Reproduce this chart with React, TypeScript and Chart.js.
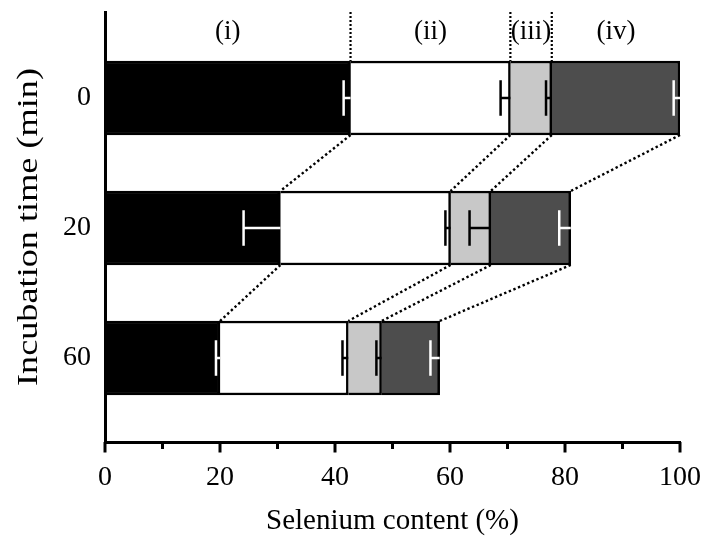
import { useEffect, useRef } from 'react';
import { Chart, registerables } from 'chart.js';

Chart.register(...registerables);

// Incubation times (rows) and the four selenium fractions
const incubationTimes = ['0', '20', '60'];
const fractionLabels = ['(i)', '(ii)', '(iii)', '(iv)'];

// Selenium content of each fraction (% of initial), per incubation time
const fractionI = [42.7, 30.5, 20.0];
const fractionII = [27.8, 29.6, 22.3];
const fractionIII = [7.2, 7.0, 5.8];
const fractionIV = [22.3, 13.9, 10.1];

// Error (one-sided, drawn to the left of each segment end)
const errorI = [1.2, 6.4, 0.7];
const errorII = [1.7, 0.9, 1.0];
const errorIII = [1.0, 3.7, 0.9];
const errorIV = [1.1, 2.0, 1.6];

const majorTicks = [0, 20, 40, 60, 80, 100];
const minorTicks = [10, 30, 50, 70, 90];

const yTitle = 'Incubation time (min)';
const xTitle = 'Selenium content (%)';

const fractions = [fractionI, fractionII, fractionIII, fractionIV];
const errors = [errorI, errorII, errorIII, errorIV];
const fillColors = ['#000000', '#ffffff', '#c8c8c8', '#4d4d4d'];
const errorColors = ['#ffffff', '#000000', '#000000', '#ffffff'];

const SERIF = "'Liberation Serif', 'Times New Roman', serif";

// cumulative right-hand end of every segment, per row
const segmentEnds = incubationTimes.map((_, i) => {
  let sum = 0;
  return fractions.map((f) => (sum += f[i]));
});

const overlayPlugin = {
  id: 'fractionOverlay',
  afterDatasetsDraw(chart: any) {
    const { ctx, chartArea } = chart;
    const xs = chart.scales.x;
    const metas = fractions.map((_, d) => chart.getDatasetMeta(d));
    const px = (v: number) => xs.getPixelForValue(v);

    ctx.save();

    // error bars
    ctx.lineCap = 'butt';
    fractions.forEach((f, d) => {
      f.forEach((_, i) => {
        const bar = metas[d].data[i];
        const y = bar.y;
        const h = bar.height;
        const xEnd = px(segmentEnds[i][d]);
        const xStart = px(segmentEnds[i][d] - errors[d][i]);
        ctx.strokeStyle = errorColors[d];
        ctx.lineWidth = 2.5;
        ctx.beginPath();
        ctx.moveTo(xStart, y);
        ctx.lineTo(xEnd, y);
        ctx.stroke();
        ctx.beginPath();
        ctx.moveTo(xStart, y - h * 0.24);
        ctx.lineTo(xStart, y + h * 0.24);
        ctx.stroke();
      });
    });

    // dotted connectors between consecutive bars
    ctx.strokeStyle = '#000000';
    ctx.lineWidth = 2.4;
    ctx.setLineDash([2.4, 2.6]);
    for (let i = 0; i < incubationTimes.length - 1; i++) {
      const a = metas[0].data[i];
      const b = metas[0].data[i + 1];
      const yA = a.y + a.height / 2;
      const yB = b.y - b.height / 2;
      for (let d = 0; d < fractions.length; d++) {
        ctx.beginPath();
        ctx.moveTo(px(segmentEnds[i][d]), yA);
        ctx.lineTo(px(segmentEnds[i + 1][d]), yB);
        ctx.stroke();
      }
    }

    // dotted separators above the first bar
    const first = metas[0].data[0];
    const firstTop = first.y - first.height / 2;
    ctx.lineWidth = 2.2;
    ctx.setLineDash([2, 2]);
    for (let d = 0; d < fractions.length - 1; d++) {
      const xx = px(segmentEnds[0][d]);
      ctx.beginPath();
      ctx.moveTo(xx, chartArea.top);
      ctx.lineTo(xx, firstTop);
      ctx.stroke();
    }
    ctx.setLineDash([]);

    // fraction labels
    ctx.fillStyle = '#000000';
    ctx.font = `27px ${SERIF}`;
    ctx.textAlign = 'center';
    ctx.textBaseline = 'alphabetic';
    fractionLabels.forEach((t, d) => {
      const start = d === 0 ? xs.min : segmentEnds[0][d - 1];
      const mid = (px(start) + px(segmentEnds[0][d])) / 2;
      ctx.fillText(t, mid, chartArea.top + 26.5);
    });

    // x-axis tick marks
    ctx.strokeStyle = '#000000';
    ctx.lineWidth = 3;
    const drawTick = (v: number, len: number) => {
      const xx = px(v);
      ctx.beginPath();
      ctx.moveTo(xx, chartArea.bottom);
      ctx.lineTo(xx, chartArea.bottom + len);
      ctx.stroke();
    };
    majorTicks.forEach((v) => drawTick(v, 10.5));
    minorTicks.forEach((v) => drawTick(v, 7));

    // y-axis title, set in a tall narrow face
    ctx.font = `29px ${SERIF}`;
    ctx.textAlign = 'center';
    ctx.textBaseline = 'middle';
    ctx.translate(29, (chartArea.top + chartArea.bottom) / 2);
    ctx.rotate(-Math.PI / 2);
    ctx.scale(1.25, 1);
    ctx.fillText(yTitle, 0, 0);

    ctx.restore();
  },
};

const noOverflowPadding = (s: any) => {
  s.paddingTop = 0;
  s.paddingBottom = 0;
  s.paddingLeft = 0;
  s.paddingRight = 0;
};

export default function App() {
  const canvasRef = useRef<HTMLCanvasElement | null>(null);

  useEffect(() => {
    const canvas = canvasRef.current;
    if (!canvas) return;

    const chart = new Chart(canvas, {
      type: 'bar',
      data: {
        datasets: fractions.map((f, d) => ({
          label: fractionLabels[d],
          data: f.map((v, i) => ({ x: v, y: i })),
          backgroundColor: fillColors[d],
          borderColor: '#000000',
          borderWidth: 2.5,
          borderSkipped: 'start',
          barThickness: 74,
        })),
      },
      options: {
        indexAxis: 'y',
        responsive: false,
        animation: false,
        layout: { padding: { top: 12, right: 22, left: 0, bottom: 0 } },
        plugins: {
          legend: { display: false },
          tooltip: { enabled: false },
        },
        scales: {
          x: {
            type: 'linear',
            min: 0,
            max: 100,
            stacked: true,
            offset: false,
            afterBuildTicks: (s: any) => {
              s.ticks = majorTicks.map((v) => ({ value: v }));
            },
            afterFit: (s: any) => {
              s.height = 94;
              noOverflowPadding(s);
            },
            ticks: {
              color: '#000000',
              font: { family: SERIF, size: 28 },
              padding: 19,
              maxRotation: 0,
            },
            grid: { display: false, drawTicks: false },
            border: { display: true, width: 3, color: '#000000' },
            title: {
              display: true,
              text: xTitle,
              color: '#000000',
              font: { family: SERIF, size: 29, lineHeight: 1 },
              padding: { top: 0, bottom: 0 },
            },
          },
          y: {
            type: 'linear',
            reverse: true,
            min: -0.6615,
            max: 2.646,
            stacked: true,
            offset: false,
            afterBuildTicks: (s: any) => {
              s.ticks = incubationTimes.map((_, i) => ({ value: i }));
            },
            afterFit: (s: any) => {
              s.width = 105;
              noOverflowPadding(s);
            },
            ticks: {
              color: '#000000',
              font: { family: SERIF, size: 28 },
              padding: 14,
              callback: (v: any) => incubationTimes[v as number] ?? '',
            },
            grid: { display: false, drawTicks: false },
            border: { display: true, width: 3, color: '#000000' },
            title: { display: false },
          },
        },
      },
      plugins: [overlayPlugin],
    } as any);

    return () => chart.destroy();
  }, []);

  return (
    <div style={{ position: 'fixed', left: 0, top: 0, width: 702, height: 536, background: '#ffffff' }}>
      <canvas ref={canvasRef} width={702} height={536} style={{ display: 'block' }} />
    </div>
  );
}
